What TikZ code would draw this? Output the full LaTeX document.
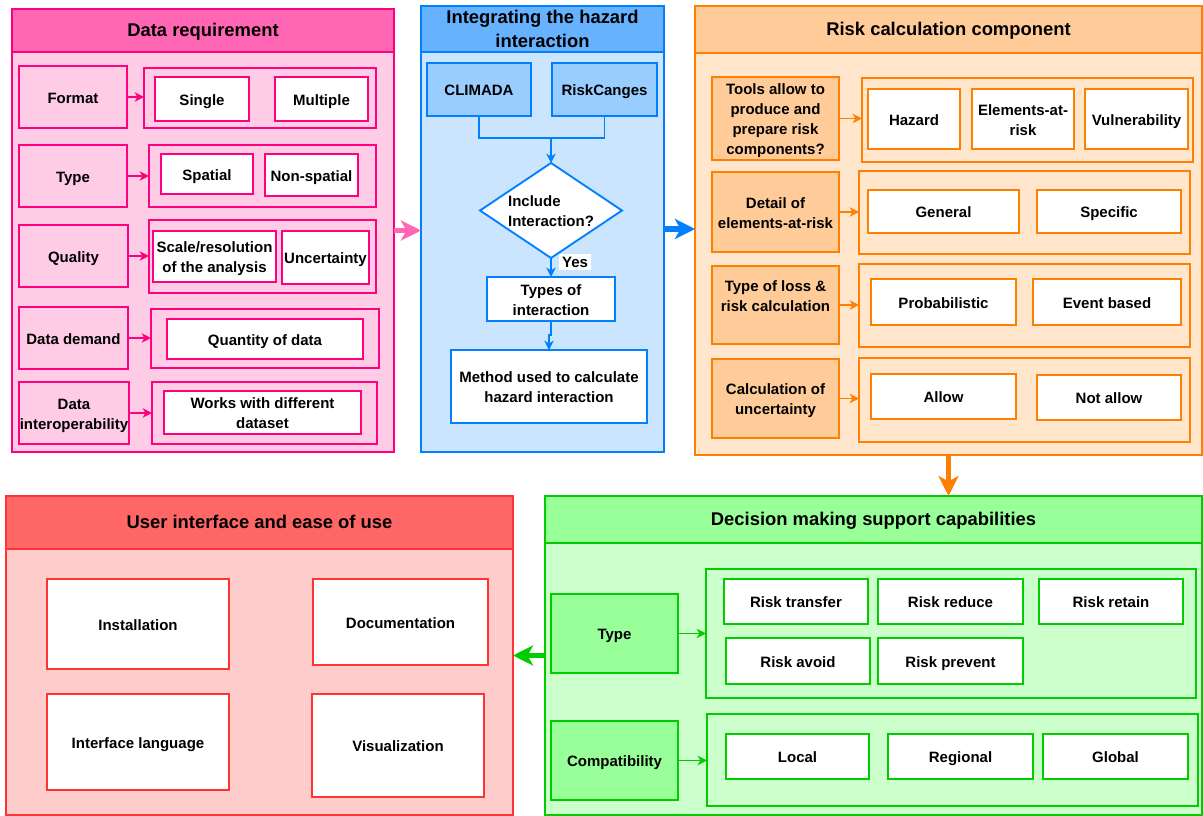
\documentclass[tikz,border=0pt]{standalone}
\usepackage{fontspec}
\setmainfont{Liberation Sans}
\usetikzlibrary{shapes.geometric,arrows.meta}

% palette: stroke / header / body for each panel
\definecolor{pkS}{HTML}{FF0080}\definecolor{pkH}{HTML}{FF66B3}\definecolor{pkB}{HTML}{FFCCE6}
\definecolor{blS}{HTML}{007FFF}\definecolor{blH}{HTML}{66B2FF}\definecolor{blB}{HTML}{CCE5FF}\definecolor{blM}{HTML}{99CCFF}
\definecolor{orS}{HTML}{FF8000}\definecolor{orH}{HTML}{FFCC99}\definecolor{orB}{HTML}{FFE6CC}
\definecolor{rdS}{HTML}{FF3333}\definecolor{rdH}{HTML}{FF6666}\definecolor{rdB}{HTML}{FFCCCC}
\definecolor{grS}{HTML}{00CC00}\definecolor{grH}{HTML}{99FF99}\definecolor{grB}{HTML}{CCFFCC}

% strut (depth 2pt, height 11.6pt) that puts the lettering on the optical centre
\newcommand{\capstrut}{\rule[-2pt]{0pt}{13.6pt}}
% box from its corners: style, name, x1, y1, x2, y2, text
\newcommand{\mkbox}[7]{%
  \node[#1, minimum width={(#5-#3)*0.75pt}, minimum height={(#6-#4)*0.75pt}]
    (#2) at ({(#3+#5)/2},{(#4+#6)/2}) {\capstrut#7\capstrut};}

\tikzset{
  base/.style={draw, inner sep=0pt, outer sep=0pt, align=center,
    font=\bfseries\fontsize{11.25}{15}\selectfont},
  panel/.style={base, line width=1.5pt},
  title/.style={panel, font=\bfseries\fontsize{13.8}{18}\selectfont},
  grp/.style={base, line width=2pt},
  lab/.style={base, line width=2pt},
  cell/.style={base, line width=2pt, fill=white},
  thin/.style={base, line width=1.4pt},
  plain/.style={inner sep=0pt, align=center, font=\bfseries\fontsize{11.25}{15}\selectfont},
  tag/.style={inner sep=2pt, fill=white, font=\bfseries\fontsize{11.25}{15}\selectfont},
  sarrow/.style={line width=1.4pt, -{Stealth[length=7pt,width=7pt,inset=2pt]}},
  bigarrow/.style={line width=4pt, -{Stealth[length=15pt,width=15pt,inset=4pt]}},
}

\begin{document}
\begin{tikzpicture}[x=0.75pt, y=-0.75pt]
\useasboundingbox (0,0) rectangle (1203,816);
\fill[white] (0,0) rectangle (1203,816);

% ---------------- Data requirement ----------------
\mkbox{panel, draw=pkS, fill=pkB}{p1}{12}{9}{394}{452}{}
\mkbox{title, draw=pkS, fill=pkH}{p1h}{12}{9}{394}{52}{Data requirement}
\begin{scope}[every node/.append style={draw=pkS}]
\mkbox{lab, fill=pkB}{fmt}{19}{66}{127}{128}{Format}
\mkbox{lab, fill=pkB}{typ}{19}{145}{127}{207}{Type}
\mkbox{lab, fill=pkB}{qual}{19}{225}{128}{287}{Quality}
\mkbox{lab, fill=pkB}{dem}{19}{307}{128}{369}{Data demand}
\mkbox{lab, fill=pkB}{intop}{19}{382}{129}{444}{Data\\interoperability}
\mkbox{grp, fill=pkB}{fmtg}{144}{68}{376}{128}{}
\mkbox{grp, fill=pkB}{typg}{149}{145}{376}{207}{}
\mkbox{grp, fill=pkB}{qualg}{149}{220}{376}{293}{}
\mkbox{grp, fill=pkB}{demg}{151}{309}{379}{368}{}
\mkbox{grp, fill=pkB}{intopg}{152}{382}{377}{444}{}
\mkbox{cell}{single}{155}{77}{249}{121}{Single}
\mkbox{cell}{multiple}{275}{77}{368}{121}{Multiple}
\mkbox{cell}{spatial}{161}{154}{253}{194}{Spatial}
\mkbox{cell}{nonsp}{265}{154}{358}{196}{Non-spatial}
\mkbox{cell}{scale}{153}{231}{276}{282}{Scale/resolution\\of the analysis}
\mkbox{cell}{uncert}{282}{231}{369}{284}{Uncertainty}
\mkbox{cell}{qty}{167}{319}{363}{359}{Quantity of data}
\mkbox{cell}{works}{164}{391}{361}{434}{Works with different\\dataset}
\end{scope}
\begin{scope}[pkS]
\draw[sarrow] (fmt.east) -- (fmt.east -| fmtg.west);
\draw[sarrow] (typ.east) -- (typ.east -| typg.west);
\draw[sarrow] (qual.east) -- (qual.east -| qualg.west);
\draw[sarrow] (dem.east) -- (dem.east -| demg.west);
\draw[sarrow] (intop.east) -- (intop.east -| intopg.west);
\end{scope}

% ---------------- Integrating the hazard interaction ----------------
\mkbox{panel, draw=blS, fill=blB}{p2}{421}{6}{664}{452}{}
\mkbox{title, draw=blS, fill=blH}{p2h}{421}{6}{664}{52}{Integrating the hazard\\interaction}
\mkbox{thin, draw=blS, fill=blM}{climada}{427}{63}{531}{116}{CLIMADA}
\mkbox{thin, draw=blS, fill=blM}{riskc}{552}{63}{657}{116}{RiskCanges}
\node[diamond, draw=blS, fill=white, line width=1.4pt, inner sep=0pt, outer sep=0pt,
      minimum width=142*0.75pt, minimum height=95*0.75pt] (incl) at (551,210.5) {};
\node[plain, align=left] (incltxt) at (incl.center) {\capstrut Include\\Interaction?\capstrut};
\mkbox{thin, draw=blS, fill=white}{types}{487}{277}{615}{321}{Types of\\interaction}
\mkbox{thin, draw=blS, fill=white}{method}{451}{350}{647}{423}{Method used to calculate\\hazard interaction}
\coordinate (merge) at (551,138);
\begin{scope}[blS]
\draw[line width=1.4pt] (climada.south) |- (merge) -| (riskc.south);
\draw[sarrow] (merge) -- (incl.north);
\draw[sarrow] (incl.south) -- (types.north);
\draw[sarrow] (types.south) -- ++(0,14) -| (method.north);
\end{scope}
\node[tag] (yes) at (575,262) {Yes};

% ---------------- Risk calculation component ----------------
\mkbox{panel, draw=orS, fill=orB}{p3}{695}{6}{1202}{455}{}
\mkbox{title, draw=orS, fill=orH}{p3h}{695}{6}{1202}{53}{Risk calculation component}
\begin{scope}[every node/.append style={draw=orS}]
\mkbox{lab, fill=orH}{tools}{712}{77}{839}{160}{Tools allow to\\produce and\\prepare risk\\components?}
\mkbox{lab, fill=orH}{detail}{712}{172}{839}{252}{Detail of\\elements-at-risk}
\mkbox{lab, fill=orH}{loss}{712}{266}{839}{344}{}
\mkbox{lab, fill=orH}{uncl}{712}{359}{839}{438}{Calculation of\\uncertainty}
\mkbox{grp, fill=orB}{toolsg}{862}{78}{1193}{162}{}
\mkbox{grp, fill=orB}{detailg}{859}{171}{1190}{254}{}
\mkbox{grp, fill=orB}{lossg}{859}{264}{1190}{347}{}
\mkbox{grp, fill=orB}{uncg}{859}{358}{1190}{442}{}
\mkbox{cell}{hazard}{868}{89}{960}{149}{Hazard}
\mkbox{cell}{elem}{972}{89}{1074}{149}{Elements-at-\\risk}
\mkbox{cell}{vuln}{1085}{89}{1188}{149}{Vulnerability}
\mkbox{cell}{general}{868}{190}{1019}{233}{General}
\mkbox{cell}{specific}{1037}{190}{1181}{233}{Specific}
\mkbox{cell}{prob}{871}{279}{1016}{325}{Probabilistic}
\mkbox{cell}{event}{1033}{279}{1181}{325}{Event based}
\mkbox{cell}{allow}{871}{374}{1016}{419}{Allow}
\mkbox{cell}{notallow}{1037}{375}{1181}{420}{Not allow}
\end{scope}
\node[plain] (losstxt) at (775.5,295) {\capstrut Type of loss \&\\risk calculation\capstrut};
\begin{scope}[orS]
\draw[sarrow] (tools.east) -- (tools.east -| toolsg.west);
\draw[sarrow] (detail.east) -- (detail.east -| detailg.west);
\draw[sarrow] (loss.east) -- (loss.east -| lossg.west);
\draw[sarrow] (uncl.east) -- (uncl.east -| uncg.west);
\end{scope}

% ---------------- User interface and ease of use ----------------
\mkbox{panel, draw=rdS, fill=rdB}{p4}{6}{496}{513}{815}{}
\mkbox{title, draw=rdS, fill=rdH}{p4h}{6}{496}{513}{549}{User interface and ease of use}
\begin{scope}[every node/.append style={draw=rdS}]
\mkbox{cell}{install}{47}{579}{229}{669}{Installation}
\mkbox{cell}{docs}{313}{579}{488}{665}{Documentation}
\mkbox{cell}{iface}{47}{694}{229}{790}{Interface language}
\mkbox{cell}{visual}{312}{694}{484}{797}{Visualization}
\end{scope}

% ---------------- Decision making support capabilities ----------------
\mkbox{panel, draw=grS, fill=grB}{p5}{545}{496}{1202}{815}{}
\mkbox{title, draw=grS, fill=grH}{p5h}{545}{496}{1202}{543}{Decision making support capabilities}
\begin{scope}[every node/.append style={draw=grS}]
\mkbox{lab, fill=grH}{dtype}{551}{594}{678}{673}{Type}
\mkbox{lab, fill=grH}{comp}{551}{721}{678}{800}{Compatibility}
\mkbox{grp, fill=grB}{dtypeg}{706}{569}{1196}{698}{}
\mkbox{grp, fill=grB}{compg}{707}{714}{1198}{806}{}
\mkbox{cell}{rtrans}{724}{579}{868}{624}{Risk transfer}
\mkbox{cell}{rred}{878}{579}{1023}{624}{Risk reduce}
\mkbox{cell}{rret}{1039}{579}{1183}{624}{Risk retain}
\mkbox{cell}{ravoid}{726}{638}{870}{684}{Risk avoid}
\mkbox{cell}{rprev}{878}{638}{1023}{684}{Risk prevent}
\mkbox{cell}{local}{726}{734}{869}{779}{Local}
\mkbox{cell}{regional}{888}{734}{1033}{779}{Regional}
\mkbox{cell}{global}{1043}{734}{1188}{779}{Global}
\end{scope}
\begin{scope}[grS]
\draw[sarrow] (dtype.east) -- (dtype.east -| dtypeg.west);
\draw[sarrow] (comp.east) -- (comp.east -| compg.west);
\end{scope}

% ---------------- flow between panels ----------------
\draw[bigarrow, pkH] (p1.east) -- (p1.east -| p2.west);
\draw[bigarrow, blS] (p2.east) -- (p2.east -| p3.west);
\draw[bigarrow, orS] (p3.south) -- (p3.south |- p5.north);
\draw[bigarrow, grS] (p5.west) -- (p5.west -| p4.east);
\end{tikzpicture}
\end{document}
